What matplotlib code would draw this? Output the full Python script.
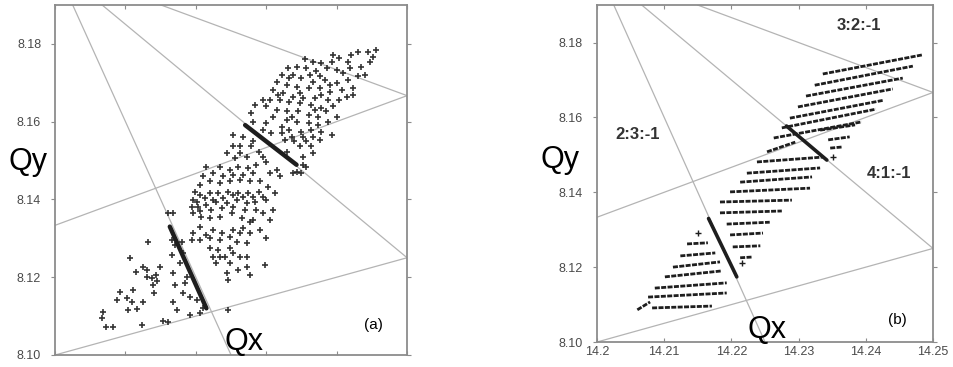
"""Tune footprints on the Qx-Qy plane with nearby resonance lines, panels (a) and (b)."""

import matplotlib

matplotlib.use("Agg")
import matplotlib.pyplot as plt  # noqa: E402

plt.rcParams["font.family"] = ["Liberation Sans", "DejaVu Sans"]

QX_LIM = (14.20, 14.25)
QY_LIM = (8.10, 8.19)
QX_TICKS = [14.20, 14.21, 14.22, 14.23, 14.24, 14.25]
QX_TICK_LABELS = ["14.2", "14.21", "14.22", "14.23", "14.24", "14.25"]
QY_TICKS = [8.10, 8.12, 8.14, 8.16, 8.18]
QY_TICK_LABELS = ["8.10", "8.12", "8.14", "8.16", "8.18"]

# resonance lines  a*Qx + b*Qy = c
RES_A = [4, 3, 2, 2, 1]
RES_B = [1, 2, 3, -3, -2]
RES_C = [65, 59, 53, 4, -2]

# panel (a): scattered tunes
A_QX = [
    14.2456, 14.2445, 14.2430, 14.2421, 14.2404, 14.2393, 14.2378, 14.2367, 14.2355, 14.2447,
    14.2435, 14.2419, 14.2400, 14.2386, 14.2371, 14.2357, 14.2343, 14.2331, 14.2322, 14.2338,
    14.2350, 14.2367, 14.2383, 14.2400, 14.2416, 14.2430, 14.2440, 14.2423, 14.2407, 14.2390,
    14.2376, 14.2360, 14.2343, 14.2329, 14.2315, 14.2310, 14.2324, 14.2338, 14.2352, 14.2369,
    14.2388, 14.2404, 14.2423, 14.2395, 14.2378, 14.2364, 14.2348, 14.2333, 14.2319, 14.2305,
    14.2300, 14.2315, 14.2329, 14.2345, 14.2360, 14.2374, 14.2388, 14.2374, 14.2360, 14.2343,
    14.2329, 14.2284, 14.2300, 14.2322, 14.2333, 14.2350, 14.2364, 14.2378, 14.2393, 14.2352,
    14.2336, 14.2322, 14.2307, 14.2296, 14.2281, 14.2267, 14.2253, 14.2348, 14.2364, 14.2367,
    14.2352, 14.2338, 14.2350, 14.2357, 14.2279, 14.2262, 14.2253, 14.2244, 14.2255, 14.2272,
    14.2289, 14.2300, 14.2286, 14.2274, 14.2260, 14.2248, 14.2234, 14.2225, 14.2215, 14.2220,
    14.2234, 14.2248, 14.2262, 14.2277, 14.2291, 14.2305, 14.2319, 14.2315, 14.2303, 14.2289,
    14.2274, 14.2260, 14.2246, 14.2232, 14.2220, 14.2206, 14.2201, 14.2203, 14.2215, 14.2229,
    14.2244, 14.2258, 14.2272, 14.2284, 14.2300, 14.2310, 14.2296, 14.2281, 14.2265, 14.2251,
    14.2234, 14.2220, 14.2208, 14.2196, 14.2199, 14.2225, 14.2237, 14.2253, 14.2267, 14.2277,
    14.2300, 14.2272, 14.2258, 14.2248, 14.2232, 14.2220, 14.2225, 14.2241, 14.2272, 14.2298,
    14.2277, 14.2260, 14.2244, 14.2246, 14.2229, 14.2215, 14.2206, 14.2279,
    14.2395, 14.2416, 14.2452, 14.2376, 14.2362, 14.2409, 14.2333, 14.2390, 14.2414, 14.2378,
    14.2348, 14.2317, 14.2296, 14.2310, 14.2336, 14.2369, 14.2385, 14.2400, 14.2367, 14.2376,
    14.2357, 14.2340, 14.2326, 14.2329, 14.2352, 14.2343, 14.2281, 14.2262, 14.2296, 14.2281,
    14.2267, 14.2253, 14.2239, 14.2210, 14.2206, 14.2312, 14.2296, 14.2281, 14.2267, 14.2253,
    14.2239, 14.2225, 14.2213, 14.2196, 14.2194, 14.2206, 14.2222, 14.2237, 14.2253, 14.2270,
    14.2286, 14.2305, 14.2291, 14.2277, 14.2262, 14.2248, 14.2234, 14.2220, 14.2234, 14.2253,
    14.2262, 14.2248, 14.2272, 14.2206, 14.2196, 14.2194,
    14.2066, 14.2068, 14.2073, 14.2082, 14.2106, 14.2115, 14.2125, 14.2132, 14.2130, 14.2137,
    14.2143, 14.2145, 14.2139, 14.2102, 14.2111, 14.2109, 14.2117, 14.2104, 14.2123, 14.2154,
    14.2161, 14.2168, 14.2168, 14.2170, 14.2182, 14.2184, 14.2192, 14.2206, 14.2210, 14.2161,
    14.2168, 14.2166, 14.2180, 14.2170, 14.2246, 14.2166,
    14.2088, 14.2092, 14.2130, 14.2149, 14.2177, 14.2182, 14.2187, 14.2201, 14.2173, 14.2192,
    14.2140, 14.2125,
]
A_QY = [
    8.1783, 8.1778, 8.1778, 8.1770, 8.1763, 8.1754, 8.1750, 8.1754, 8.1760, 8.1754,
    8.1741, 8.1737, 8.1733, 8.1737, 8.1729, 8.1737, 8.1741, 8.1737, 8.1720, 8.1720,
    8.1711, 8.1703, 8.1707, 8.1699, 8.1707, 8.1716, 8.1720, 8.1686, 8.1681, 8.1677,
    8.1686, 8.1686, 8.1690, 8.1694, 8.1703, 8.1681, 8.1673, 8.1664, 8.1660, 8.1660,
    8.1656, 8.1656, 8.1669, 8.1639, 8.1634, 8.1643, 8.1647, 8.1651, 8.1656, 8.1656,
    8.1639, 8.1630, 8.1626, 8.1626, 8.1617, 8.1613, 8.1600, 8.1591, 8.1596, 8.1600,
    8.1604, 8.1643, 8.1596, 8.1587, 8.1579, 8.1574, 8.1579, 8.1574, 8.1566, 8.1561,
    8.1561, 8.1570, 8.1570, 8.1579, 8.1600, 8.1561, 8.1566, 8.1536, 8.1536, 8.1519,
    8.1510, 8.1467, 8.1467, 8.1484, 8.1536, 8.1536, 8.1536, 8.1519, 8.1506, 8.1510,
    8.1523, 8.1497, 8.1489, 8.1480, 8.1484, 8.1476, 8.1484, 8.1467, 8.1484, 8.1446,
    8.1441, 8.1446, 8.1450, 8.1446, 8.1446, 8.1467, 8.1459, 8.1476, 8.1433, 8.1420,
    8.1416, 8.1416, 8.1420, 8.1416, 8.1416, 8.1411, 8.1394, 8.1381, 8.1386, 8.1394,
    8.1390, 8.1399, 8.1390, 8.1394, 8.1399, 8.1373, 8.1364, 8.1347, 8.1351, 8.1364,
    8.1356, 8.1351, 8.1356, 8.1364, 8.1420, 8.1321, 8.1313, 8.1321, 8.1326, 8.1343,
    8.1300, 8.1287, 8.1291, 8.1274, 8.1270, 8.1274, 8.1253, 8.1253, 8.1253, 8.1231,
    8.1206, 8.1219, 8.1210, 8.1193, 8.1236, 8.1309, 8.1296, 8.1621,
    8.1771, 8.1754, 8.1767, 8.1716, 8.1720, 8.1724, 8.1711, 8.1694, 8.1664, 8.1669,
    8.1673, 8.1669, 8.1656, 8.1613, 8.1613, 8.1630, 8.1626, 8.1613, 8.1561, 8.1553,
    8.1549, 8.1549, 8.1553, 8.1523, 8.1489, 8.1471, 8.1549, 8.1519, 8.1510, 8.1467,
    8.1463, 8.1463, 8.1459, 8.1459, 8.1437, 8.1416, 8.1407, 8.1407, 8.1407, 8.1411,
    8.1403, 8.1399, 8.1403, 8.1399, 8.1381, 8.1369, 8.1373, 8.1377, 8.1381, 8.1373,
    8.1373, 8.1347, 8.1321, 8.1313, 8.1313, 8.1304, 8.1296, 8.1300, 8.1253, 8.1261,
    8.1253, 8.1236, 8.1227, 8.1330, 8.1313, 8.1296,
    8.1094, 8.1111, 8.1073, 8.1073, 8.1249, 8.1214, 8.1227, 8.1291, 8.1201, 8.1197,
    8.1206, 8.1189, 8.1180, 8.1146, 8.1167, 8.1137, 8.1117, 8.1116, 8.1077, 8.1088,
    8.1086, 8.1137, 8.1210, 8.1180, 8.1159, 8.1184, 8.1150, 8.1107, 8.1120, 8.1364,
    8.1364, 8.1296, 8.1291, 8.1283, 8.1116, 8.1257,
    8.1142, 8.1163, 8.1219, 8.1227, 8.1236, 8.1261, 8.1201, 8.1141, 8.1116, 8.1103,
    8.1159, 8.1137,
]

# dense streaks of tunes locked on the resonance lines (start / end)
A_STREAK_QX = [(14.2163, 14.2215), (14.2270, 14.2343)]
A_STREAK_QY = [(8.1330, 8.1120), (8.1591, 8.1489)]
B_STREAK_QX = [(14.2166, 14.2208), (14.2282, 14.2342)]
B_STREAK_QY = [(8.1330, 8.1174), (8.1577, 8.1486)]

# panel (b): rows of tunes from the regular amplitude grid (start / end of each row)
B_ROW_QX0 = [
    14.2336, 14.2324, 14.2311, 14.2299, 14.2287, 14.2275, 14.2263,
    14.2332, 14.2344, 14.2347,
    14.2253, 14.2238, 14.2223, 14.2213, 14.2198, 14.2183, 14.2183, 14.2193, 14.2198, 14.2202, 14.2213,
    14.2134, 14.2124, 14.2113, 14.2101, 14.2086, 14.2076, 14.2082, 14.2060,
]
B_ROW_QY0 = [
    8.1716, 8.1686, 8.1657, 8.1628, 8.1598, 8.1572, 8.1545,
    8.1566, 8.1540, 8.1518,
    8.1508, 8.1481, 8.1451, 8.1427, 8.1401, 8.1374, 8.1345, 8.1315, 8.1286, 8.1254, 8.1225,
    8.1262, 8.1230, 8.1200, 8.1174, 8.1144, 8.1120, 8.1091, 8.1086,
]
B_ROW_QX1 = [
    14.2484, 14.2470, 14.2455, 14.2440, 14.2427, 14.2415, 14.2394,
    14.2384, 14.2376, 14.2365,
    14.2295, 14.2336, 14.2332, 14.2320, 14.2317, 14.2290, 14.2275, 14.2257, 14.2247, 14.2243, 14.2231,
    14.2165, 14.2176, 14.2183, 14.2186, 14.2193, 14.2193, 14.2171, 14.2079,
]
B_ROW_QY1 = [
    8.1767, 8.1737, 8.1705, 8.1676, 8.1646, 8.1622, 8.1588,
    8.1580, 8.1548, 8.1521,
    8.1534, 8.1494, 8.1465, 8.1441, 8.1411, 8.1379, 8.1350, 8.1320, 8.1291, 8.1257, 8.1227,
    8.1265, 8.1238, 8.1214, 8.1190, 8.1158, 8.1131, 8.1096, 8.1107,
]
B_SINGLE_QX = [14.2150, 14.2216, 14.2351]
B_SINGLE_QY = [8.1291, 8.1211, 8.1494]

GRID_GREY = "#b4b4b4"
SPINE_GREY = "#8c8c8c"
INK = "#1e1e1e"


def style_axes(ax, show_x_labels):
    ax.set_xlim(*QX_LIM)
    ax.set_ylim(*QY_LIM)
    ax.set_xticks(QX_TICKS)
    ax.set_yticks(QY_TICKS)
    ax.set_yticklabels(QY_TICK_LABELS)
    if show_x_labels:
        ax.set_xticklabels(QX_TICK_LABELS)
    else:
        ax.set_xticklabels([])
    for s in ax.spines.values():
        s.set_color(SPINE_GREY)
        s.set_linewidth(1.3)
    ax.tick_params(axis="y", direction="out", length=3, width=0.8, color=SPINE_GREY,
                   labelsize=9, labelcolor="#4a4a4a", pad=7, right=True)
    ax.tick_params(axis="x", direction="in", length=3, width=0.8, color=SPINE_GREY,
                   labelsize=9, labelcolor="#4a4a4a", pad=3, top=True)
    for a, b, c in zip(RES_A, RES_B, RES_C):
        q0 = QX_LIM[0]
        ax.axline((q0, (c - a * q0) / b), slope=-a / b, color=GRID_GREY, lw=0.9, zorder=1)


fig = plt.figure(figsize=(9.54, 3.67), dpi=100)
ax_a = fig.add_axes([0.0577, 0.0327, 0.369, 0.954])
ax_b = fig.add_axes([0.6258, 0.0681, 0.3522, 0.918])

style_axes(ax_a, False)
ax_a.plot(A_QX, A_QY, ls="none", marker="+", ms=5, mew=1.2, color=INK, alpha=0.9, zorder=3)
for xs, ys in zip(A_STREAK_QX, A_STREAK_QY):
    ax_a.plot(xs, ys, color=INK, lw=3.2, solid_capstyle="round", zorder=4)
ax_a.text(0.905, 0.085, "(a)", transform=ax_a.transAxes, fontsize=11, ha="center", va="center")
ax_a.text(0.537, 0.038, "Qx", transform=ax_a.transAxes, fontsize=22, ha="center", va="center")
fig.text(28 / 954, 1 - 162 / 367, "Qy", fontsize=22, ha="center", va="center")

style_axes(ax_b, True)
for x0, y0, x1, y1 in zip(B_ROW_QX0, B_ROW_QY0, B_ROW_QX1, B_ROW_QY1):
    ax_b.plot([x0, x1], [y0, y1], color=INK, lw=2.0, ls=(0, (1.8, 0.5)), zorder=3)
ax_b.plot(B_SINGLE_QX, B_SINGLE_QY, ls="none", marker="+", ms=5, mew=1.0, color=INK, zorder=3)
for xs, ys in zip(B_STREAK_QX, B_STREAK_QY):
    ax_b.plot(xs, ys, color=INK, lw=2.6, solid_capstyle="round", zorder=4)
ax_b.text(0.895, 0.065, "(b)", transform=ax_b.transAxes, fontsize=11, ha="center", va="center")
ax_b.text(0.506, 0.035, "Qx", transform=ax_b.transAxes, fontsize=22, ha="center", va="center")
fig.text(560 / 954, 1 - 160 / 367, "Qy", fontsize=22, ha="center", va="center")
ax_b.text(0.78, 0.94, "3:2:-1", transform=ax_b.transAxes, fontsize=12, fontweight="bold",
          ha="center", va="center", color="#333333")
ax_b.text(0.122, 0.615, "2:3:-1", transform=ax_b.transAxes, fontsize=12, fontweight="bold",
          ha="center", va="center", color="#333333")
ax_b.text(0.87, 0.50, "4:1:-1", transform=ax_b.transAxes, fontsize=12, fontweight="bold",
          ha="center", va="center", color="#333333")

fig.savefig("out.png", dpi=100)
